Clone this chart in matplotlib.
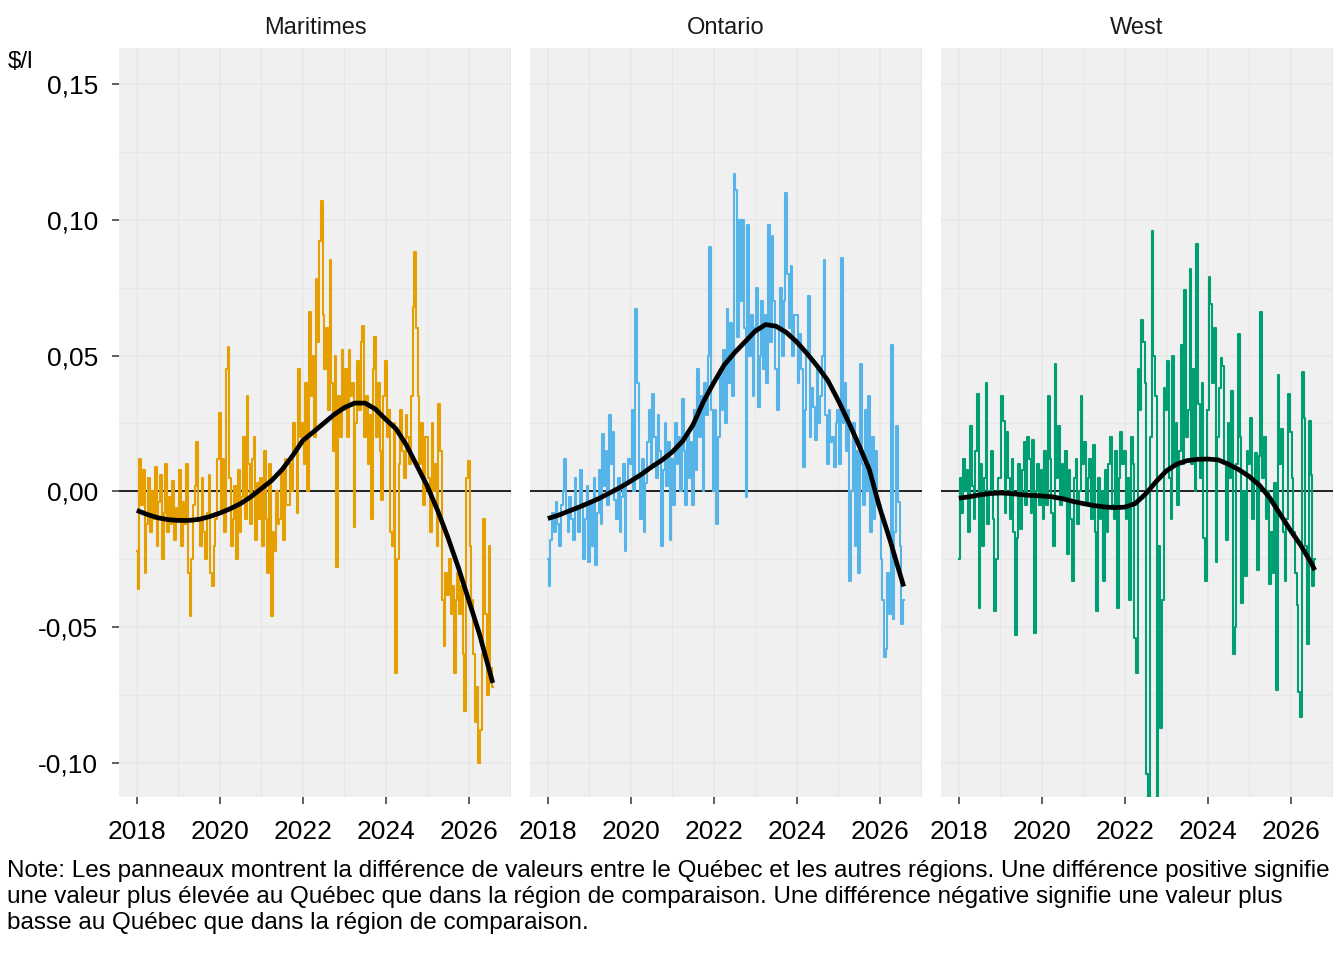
import numpy as np
import matplotlib
matplotlib.use("Agg")
import matplotlib.pyplot as plt
from matplotlib.ticker import FixedLocator, FuncFormatter

plt.rcParams['font.family'] = ['Liberation Sans', 'DejaVu Sans']

# ---------------- data (semi-monthly differences, $/l) ----------------
regions = ["Maritimes", "Ontario", "West"]
colors = ["#E69F00", "#56B4E9", "#009E73"]
start_year = 2018.0
periods_per_year = 24

maritimes = [
    # 2018
    -0.022, -0.036, 0.012, -0.005, 0.008, -0.030, -0.012, 0.005, -0.015, 0.000, -0.010, 0.009,
    -0.020, -0.004, 0.006, -0.025, -0.008, 0.010, -0.015, -0.002, -0.012, 0.004, -0.018, -0.006,
    # 2019
    -0.010, 0.008, -0.020, -0.004, -0.012, 0.010, -0.030, -0.046, -0.025, -0.005, 0.002, 0.018,
    -0.010, -0.020, 0.005, -0.015, -0.025, -0.008, 0.006, -0.030, -0.035, -0.020, -0.010, 0.012,
    # 2020
    0.029, -0.008, 0.012, -0.015, 0.045, 0.053, 0.005, -0.020, -0.010, 0.002, -0.025, 0.008,
    -0.015, -0.002, 0.020, -0.010, 0.035, 0.010, -0.012, 0.012, 0.020, -0.018, 0.003, -0.010,
    # 2021
    0.005, -0.020, 0.015, -0.010, -0.030, 0.010, -0.046, -0.015, -0.022, 0.000, -0.012, -0.010,
    0.008, -0.018, 0.012, -0.005, -0.005, 0.010, 0.000, 0.025, 0.015, -0.008, 0.045, 0.020,
    # 2022
    0.025, 0.010, 0.040, 0.000, 0.066, 0.035, 0.050, 0.020, 0.078, 0.055, 0.092, 0.107,
    0.065, 0.045, 0.060, 0.030, 0.085, 0.040, 0.015, 0.050, -0.028, 0.035, 0.020, 0.052,
    # 2023
    0.030, 0.045, 0.020, 0.052, 0.035, 0.040, -0.013, 0.025, 0.048, 0.030, 0.055, 0.061,
    0.020, 0.035, 0.010, 0.028, -0.010, 0.045, 0.057, 0.020, 0.040, 0.015, -0.003, 0.035,
    # 2024
    0.048, 0.020, 0.030, -0.015, -0.020, 0.025, -0.067, -0.025, 0.010, 0.030, 0.015, 0.005,
    0.028, 0.020, 0.010, 0.035, 0.068, 0.088, 0.060, 0.035, 0.010, 0.025, -0.005, 0.020,
    # 2025
    0.020, 0.005, -0.015, 0.025, 0.000, 0.010, -0.020, 0.032, 0.015, -0.040, -0.057, -0.030,
    -0.038, -0.025, -0.045, -0.035, -0.067, -0.040, -0.030, -0.045, -0.035, -0.060, -0.081, 0.005,
    # 2026
    0.011, -0.020, -0.040, -0.060, -0.085, -0.072, -0.100, -0.088, -0.060, -0.010, -0.045, -0.075,
    -0.020, -0.065, -0.072,
]

ontario = [
    # 2018
    -0.025, -0.035, -0.018, -0.008, -0.015, -0.004, -0.012, -0.020, -0.005, 0.000, 0.012, -0.008,
    -0.015, -0.002, -0.010, -0.018, 0.005, -0.007, -0.015, 0.008, -0.005, -0.025, -0.010, 0.002,
    # 2019
    -0.026, -0.005, -0.020, 0.005, -0.027, -0.008, 0.008, -0.012, 0.021, 0.002, 0.015, -0.005,
    0.028, 0.010, 0.022, -0.003, -0.010, 0.005, -0.015, -0.002, 0.010, -0.022, 0.003, 0.012,
    # 2020
    0.010, 0.030, 0.000, 0.067, 0.040, 0.005, -0.010, 0.012, -0.015, 0.003, 0.018, 0.030,
    0.010, 0.036, 0.020, 0.005, 0.028, 0.015, -0.020, 0.008, 0.025, 0.002, 0.018, -0.018,
    # 2021
    0.012, -0.005, 0.025, 0.010, 0.020, 0.000, 0.034, 0.015, -0.005, 0.022, 0.005, 0.018,
    -0.005, 0.030, 0.008, 0.045, 0.020, 0.035, 0.000, 0.040, 0.028, 0.050, 0.090, 0.030,
    # 2022
    0.000, 0.030, -0.012, 0.020, 0.045, 0.030, 0.052, 0.025, 0.067, 0.040, 0.062, 0.035,
    0.117, 0.111, 0.057, 0.100, 0.070, 0.100, 0.060, -0.002, 0.098, 0.050, 0.065, 0.035,
    # 2023
    0.060, 0.075, 0.031, 0.050, 0.070, 0.045, 0.065, 0.040, 0.098, 0.055, 0.094, 0.070,
    0.045, 0.030, 0.060, 0.075, 0.050, 0.070, 0.110, 0.080, 0.060, 0.083, 0.050, 0.065,
    # 2024
    0.065, 0.040, 0.058, 0.045, 0.009, 0.030, 0.050, 0.072, 0.020, 0.038, 0.031, 0.019,
    0.045, 0.025, 0.035, 0.050, 0.085, 0.028, 0.010, 0.030, 0.018, 0.020, 0.009, 0.025,
    # 2025
    0.030, 0.010, 0.086, 0.025, 0.040, 0.015, 0.030, -0.033, 0.000, 0.025, -0.020, 0.015,
    -0.030, 0.047, 0.010, -0.005, 0.030, 0.000, 0.035, -0.015, 0.020, -0.010, 0.015, -0.005,
    # 2026
    -0.005, -0.025, -0.040, -0.061, -0.058, -0.030, -0.045, 0.054, -0.047, -0.015, 0.024, -0.004,
    -0.020, -0.049, -0.040,
]

west = [
    # 2018
    -0.025, 0.005, -0.008, 0.012, 0.000, 0.008, -0.015, 0.024, 0.002, -0.010, 0.015, 0.036,
    -0.043, 0.010, -0.020, 0.005, 0.040, -0.012, 0.000, 0.015, -0.010, -0.044, -0.025, 0.005,
    # 2019
    0.005, 0.035, 0.026, -0.008, 0.022, 0.005, -0.010, 0.012, -0.015, -0.053, -0.017, 0.010,
    -0.014, 0.008, 0.018, -0.005, 0.020, 0.012, -0.008, 0.019, -0.052, 0.000, 0.010, -0.005,
    # 2020
    0.008, -0.010, 0.015, -0.005, 0.035, 0.012, -0.008, -0.020, 0.047, 0.005, 0.024, -0.005,
    0.010, -0.003, 0.015, -0.023, 0.008, -0.010, -0.033, 0.005, 0.012, -0.012, 0.000, 0.035,
    # 2021
    0.010, 0.018, -0.005, 0.005, 0.012, -0.010, 0.017, -0.015, -0.044, 0.005, -0.010, 0.000,
    -0.033, 0.008, -0.015, 0.010, 0.020, -0.005, -0.010, 0.015, -0.043, 0.005, 0.022, 0.010,
    # 2022
    0.015, -0.010, 0.005, -0.040, 0.020, 0.010, -0.054, -0.067, 0.045, 0.030, 0.063, 0.055,
    0.040, -0.104, -0.130, 0.020, 0.096, 0.050, 0.035, -0.128, -0.020, -0.087, -0.040, 0.038,
    # 2023
    0.030, 0.048, 0.005, -0.010, 0.050, 0.010, 0.025, -0.005, 0.015, 0.054, 0.010, 0.074,
    0.020, 0.030, 0.082, 0.010, 0.045, 0.000, 0.091, 0.032, 0.005, 0.040, -0.017, -0.033,
    # 2024
    0.030, 0.079, 0.069, 0.040, 0.060, -0.026, 0.020, 0.038, 0.049, 0.046, 0.010, -0.018,
    0.025, 0.005, 0.037, -0.060, -0.050, 0.010, 0.058, 0.020, -0.041, 0.000, -0.031, 0.015,
    # 2025
    0.010, 0.027, -0.010, 0.005, 0.014, -0.029, 0.013, 0.066, 0.005, 0.020, -0.010, 0.000,
    -0.034, -0.015, -0.030, 0.003, -0.073, 0.043, 0.010, 0.023, -0.015, -0.033, -0.010, 0.036,
    # 2026
    0.022, 0.005, -0.015, -0.030, -0.042, -0.074, -0.083, 0.044, 0.027, -0.020, -0.056, 0.026,
    0.006, -0.035, -0.025,
]

# smoothed trend
smooth_years = [2018.0, 2018.25, 2018.5, 2018.75, 2019.0, 2019.25, 2019.5, 2019.75,
                2020.0, 2020.25, 2020.5, 2020.75, 2021.0, 2021.25, 2021.5, 2021.75,
                2022.0, 2022.25, 2022.5, 2022.75, 2023.0, 2023.25, 2023.5, 2023.75,
                2024.0, 2024.25, 2024.5, 2024.75, 2025.0, 2025.25, 2025.5, 2025.75,
                2026.0, 2026.25, 2026.5, 2026.58]
smooth_maritimes = [-0.0070, -0.0085, -0.0097, -0.0104, -0.0107, -0.0107, -0.0103, -0.0093,
                    -0.0080, -0.0064, -0.0045, -0.0020, 0.0010, 0.0040, 0.0080, 0.0130,
                    0.0187, 0.0218, 0.0250, 0.0282, 0.0308, 0.0325, 0.0325, 0.0303,
                    0.0265, 0.0230, 0.0170, 0.0095, 0.0020, -0.0070, -0.0170, -0.0280,
                    -0.0400, -0.0520, -0.0660, -0.0705]
smooth_ontario = [-0.0100, -0.0088, -0.0073, -0.0058, -0.0042, -0.0025, -0.0005, 0.0015,
                  0.0038, 0.0062, 0.0090, 0.0115, 0.0145, 0.0185, 0.0245, 0.0330,
                  0.0400, 0.0465, 0.0510, 0.0550, 0.0590, 0.0614, 0.0608, 0.0585,
                  0.0550, 0.0507, 0.0460, 0.0408, 0.0335, 0.0255, 0.0170, 0.0080,
                  -0.0060, -0.0180, -0.0310, -0.0350]
smooth_west = [-0.0025, -0.0020, -0.0013, -0.0008, -0.0006, -0.0008, -0.0012, -0.0015,
               -0.0017, -0.0020, -0.0027, -0.0037, -0.0045, -0.0052, -0.0057, -0.0060,
               -0.0058, -0.0045, -0.0010, 0.0035, 0.0075, 0.0100, 0.0113, 0.0118,
               0.0119, 0.0116, 0.0100, 0.0080, 0.0055, 0.0022, -0.0025, -0.0085,
               -0.0145, -0.0200, -0.0265, -0.0290]

x_ticks = [2018, 2020, 2022, 2024, 2026]
y_ticks = [-0.10, -0.05, 0.00, 0.05, 0.10, 0.15]

note_lines = [
    "Note: Les panneaux montrent la différence de valeurs entre le Québec et les autres régions. Une différence positive signifie",
    "une valeur plus élevée au Québec que dans la région de comparaison. Une différence négative signifie une valeur plus",
    "basse au Québec que dans la région de comparaison.",
]

series = [maritimes, ontario, west]
smooths = [smooth_maritimes, smooth_ontario, smooth_west]

# ---------------- figure ----------------
W, H = 1344, 960
fig = plt.figure(figsize=(W / 100, H / 100), dpi=100)
fig.patch.set_facecolor("white")

panel_lefts = [119, 530, 941]
panel_w = 392
top_px, bot_px = 48, 797

bg = "#F0F0F0"
grid_c = "#E7E7E7"

for i, (name, col, vals, sm) in enumerate(zip(regions, colors, series, smooths)):
    ax = fig.add_axes([panel_lefts[i] / W, 1 - bot_px / H, panel_w / W, (bot_px - top_px) / H])
    ax.set_facecolor(bg)
    for s in ax.spines.values():
        s.set_visible(False)
    xs = start_year + np.arange(len(vals)) / periods_per_year
    ax.set_xlim(2017.57, 2027.02)
    ax.set_ylim(-0.1125, 0.1632)

    ax.xaxis.set_major_locator(FixedLocator(x_ticks))
    ax.xaxis.set_minor_locator(FixedLocator([2017, 2019, 2021, 2023, 2025, 2027]))
    ax.yaxis.set_major_locator(FixedLocator(y_ticks))
    ax.yaxis.set_minor_locator(FixedLocator([-0.125, -0.075, -0.025, 0.025, 0.075, 0.125]))
    ax.grid(which="major", color=grid_c, linewidth=1.1, zorder=0)
    ax.grid(which="minor", color=grid_c, linewidth=0.8, zorder=0)
    ax.set_axisbelow(True)

    ax.tick_params(axis="x", which="major", length=5, width=1.1, color="#333333",
                   labelsize=19, labelcolor="black", pad=11.5)
    ax.tick_params(axis="both", which="minor", length=0)
    ax.xaxis.set_major_formatter(FuncFormatter(lambda v, p: f"{int(v)}"))
    if i == 0:
        ax.tick_params(axis="y", which="major", length=5, width=1.1, color="#333333",
                       labelsize=19, labelcolor="black", pad=10)
        ax.yaxis.set_major_formatter(FuncFormatter(lambda v, p: f"{v:.2f}".replace(".", ",")))
    else:
        ax.tick_params(axis="y", which="major", length=0, labelleft=False)

    ax.axhline(0, color="black", linewidth=1.2, zorder=2)
    ax.plot(xs, vals, color=col, linewidth=1.5, drawstyle="steps-mid", zorder=3)
    ax.plot(smooth_years, sm, color="black", linewidth=3.4, solid_capstyle="butt",
            solid_joinstyle="round", zorder=4)

    cx = (panel_lefts[i] + panel_w / 2) / W
    fig.text(cx, 1 - 28 / H, name, ha="center", va="center", fontsize=17, color="#1a1a1a")

fig.text(8 / W, 1 - 62 / H, "$/l", ha="left", va="center", fontsize=17.5, color="black")
for k, line in enumerate(note_lines):
    fig.text(7 / W, 1 - (877 + 26 * k) / H, line, ha="left", va="baseline",
             fontsize=17.45, color="black")

fig.savefig("out.png", dpi=100)
